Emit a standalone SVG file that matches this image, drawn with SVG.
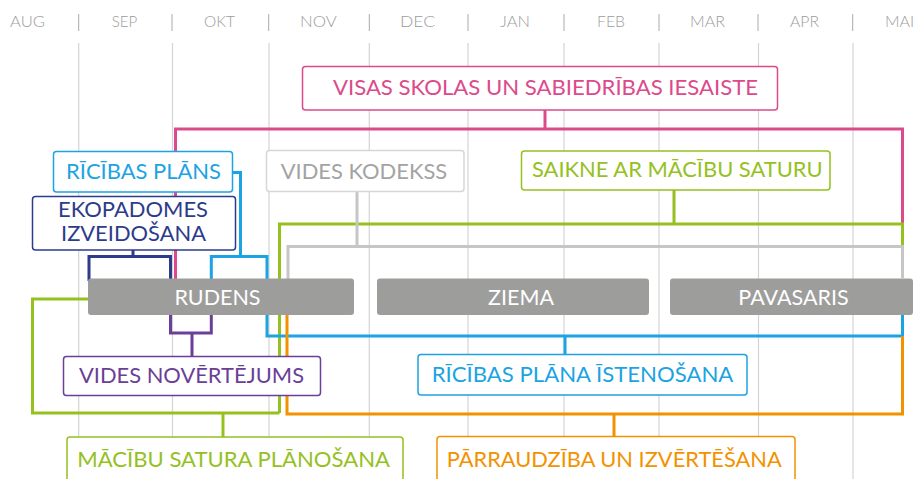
<svg xmlns="http://www.w3.org/2000/svg" width="913" height="479" viewBox="0 0 913 479">
<style>
.m{font-family:Lato,"Liberation Sans",sans-serif;font-size:16px;font-weight:300;fill:#9c9c9c}
.t{font-family:Lato,"Liberation Sans",sans-serif;font-size:20.5px}
.s{font-family:Lato,"Liberation Sans",sans-serif;font-size:21.5px;fill:#ffffff;text-anchor:middle}
.grid{stroke:#d4d4d4;stroke-width:1.2}
.sep{stroke:#aaaaaa;stroke-width:1}
.c{fill:none;stroke-width:3;stroke-linejoin:miter;stroke-linecap:butt}
.box{fill:#ffffff;stroke-width:1.5}
.season{fill:#9d9d9c}
</style>
<rect width="913" height="479" fill="#ffffff"/>
<g id="timeline">
<text class="m" x="10" y="27" textLength="35" lengthAdjust="spacingAndGlyphs">AUG</text>
<text class="m" x="111.7" y="27" textLength="25.6" lengthAdjust="spacingAndGlyphs">SEP</text>
<text class="m" x="204" y="27" textLength="31" lengthAdjust="spacingAndGlyphs">OKT</text>
<text class="m" x="300" y="27" textLength="36.7" lengthAdjust="spacingAndGlyphs">NOV</text>
<text class="m" x="400" y="27" textLength="35" lengthAdjust="spacingAndGlyphs">DEC</text>
<text class="m" x="500" y="27" textLength="30" lengthAdjust="spacingAndGlyphs">JAN</text>
<text class="m" x="597" y="27" textLength="28" lengthAdjust="spacingAndGlyphs">FEB</text>
<text class="m" x="690" y="27" textLength="35" lengthAdjust="spacingAndGlyphs">MAR</text>
<text class="m" x="790" y="27" textLength="29" lengthAdjust="spacingAndGlyphs">APR</text>
<text class="m" x="885" y="27">MAI</text>
<g class="sep">
<line x1="78.7" y1="14" x2="78.7" y2="31"/><line x1="172" y1="14" x2="172" y2="31"/><line x1="268.7" y1="14" x2="268.7" y2="31"/><line x1="369.3" y1="14" x2="369.3" y2="31"/><line x1="468" y1="14" x2="468" y2="31"/><line x1="564" y1="14" x2="564" y2="31"/><line x1="659" y1="14" x2="659" y2="31"/><line x1="758" y1="14" x2="758" y2="31"/><line x1="852.7" y1="14" x2="852.7" y2="31"/>
</g>
<g class="grid">
<line x1="78.7" y1="43" x2="78.7" y2="479"/><line x1="172.5" y1="43" x2="172.5" y2="479"/><line x1="269" y1="43" x2="269" y2="479"/><line x1="369.3" y1="43" x2="369.3" y2="479"/><line x1="468" y1="43" x2="468" y2="479"/><line x1="564" y1="43" x2="564" y2="479"/><line x1="659" y1="43" x2="659" y2="479"/><line x1="758.5" y1="43" x2="758.5" y2="479"/><line x1="853" y1="43" x2="853" y2="479"/>
</g>
</g>
<g id="connectors">
<path class="c" stroke="#dc4a8c" d="M545 110 V129 M175.5 280 V129 H902.5 V224"/>
<path class="c" stroke="#95c11f" d="M674 190 V224 M279.5 413 V224 H902.5 V246 M88 299 H32.5 V413 H279.5 M223 413 V437"/>
<path class="c" stroke="#c6c6c6" d="M357 192 V246.5 M288 280 V246.5 H902.5 V278"/>
<path class="c" stroke="#1ca3e2" d="M232 172.5 H240.5 V256.5 M211.3 280 V256.5 H267 V336 H902.5 V314 M565 336 V354"/>
<path class="c" stroke="#2d3c8a" d="M133 250 V256.5 M89 281 V256.5 H170.5 V281"/>
<path class="c" stroke="#6b3f97" d="M170.5 314 V333 H211.3 V314 M192 333 V356"/>
<path class="c" stroke="#f39200" d="M287 314 V414 H902.5 V336 M614 414 V436"/>
</g>
<g id="visas">
<rect class="box" stroke="#dc4a8c" x="302.5" y="66.5" width="475" height="43.5" rx="3"/>
<text class="t" fill="#dc4a8c" x="333" y="95" textLength="425" lengthAdjust="spacingAndGlyphs">VISAS SKOLAS UN SABIEDRĪBAS IESAISTE</text>
</g>
<g id="ricibas-plans">
<rect class="box" stroke="#1ca3e2" x="53.5" y="151.5" width="179" height="40.5" rx="3"/>
<text class="t" fill="#1ca3e2" x="66" y="179.3" textLength="155" lengthAdjust="spacingAndGlyphs">RĪCĪBAS PLĀNS</text>
</g>
<g id="ekopadomes">
<rect class="box" stroke="#2d3c8a" x="32.5" y="196.5" width="203" height="53.5" rx="3"/>
<text class="t" fill="#2d3c8a" x="58" y="217" textLength="150" lengthAdjust="spacingAndGlyphs">EKOPADOMES</text>
<text class="t" fill="#2d3c8a" x="61" y="240.7" textLength="145" lengthAdjust="spacingAndGlyphs">IZVEIDOŠANA</text>
</g>
<g id="vides-kodekss">
<rect class="box" stroke="#d6d6d6" x="266.5" y="150.5" width="197.5" height="41" rx="3"/>
<text class="t" fill="#a3a3a3" x="280.7" y="179" textLength="166.5" lengthAdjust="spacingAndGlyphs">VIDES KODEKSS</text>
</g>
<g id="saikne">
<rect class="box" stroke="#95c11f" x="521.5" y="151" width="308.5" height="39" rx="3"/>
<text class="t" fill="#95c11f" x="532" y="176.7" textLength="290.5" lengthAdjust="spacingAndGlyphs">SAIKNE AR MĀCĪBU SATURU</text>
</g>
<g id="rudens">
<rect class="season" x="88" y="278.5" width="266" height="36.5" rx="3"/>
<text class="s" x="217.5" y="305">RUDENS</text>
</g>
<g id="ziema">
<rect class="season" x="377" y="278.5" width="272" height="36.5" rx="3"/>
<text class="s" x="521" y="305">ZIEMA</text>
</g>
<g id="pavasaris">
<rect class="season" x="670" y="278.5" width="243" height="36.5" rx="3"/>
<text class="s" x="793.5" y="305">PAVASARIS</text>
</g>
<g id="vides-novertejums">
<rect class="box" stroke="#6b3f97" x="63.5" y="356.5" width="257" height="39" rx="3"/>
<text class="t" fill="#6b3f97" x="79" y="383.3" textLength="225" lengthAdjust="spacingAndGlyphs">VIDES NOVĒRTĒJUMS</text>
</g>
<g id="ricibas-plana-istenosana">
<rect class="box" stroke="#1ca3e2" x="418" y="354.5" width="329" height="40.5" rx="3"/>
<text class="t" fill="#1ca3e2" x="431.7" y="381.7" textLength="301.6" lengthAdjust="spacingAndGlyphs">RĪCĪBAS PLĀNA ĪSTENOŠANA</text>
</g>
<g id="macibu-satura">
<rect class="box" stroke="#95c11f" x="67" y="437" width="336" height="50" rx="3"/>
<text class="t" fill="#95c11f" x="77.3" y="467.3" textLength="312.7" lengthAdjust="spacingAndGlyphs">MĀCĪBU SATURA PLĀNOŠANA</text>
</g>
<g id="parraudziba">
<rect class="box" stroke="#f39200" x="437" y="436.5" width="358" height="50" rx="3"/>
<text class="t" fill="#f39200" x="446.7" y="466.7" textLength="335" lengthAdjust="spacingAndGlyphs">PĀRRAUDZĪBA UN IZVĒRTĒŠANA</text>
</g>
</svg>
